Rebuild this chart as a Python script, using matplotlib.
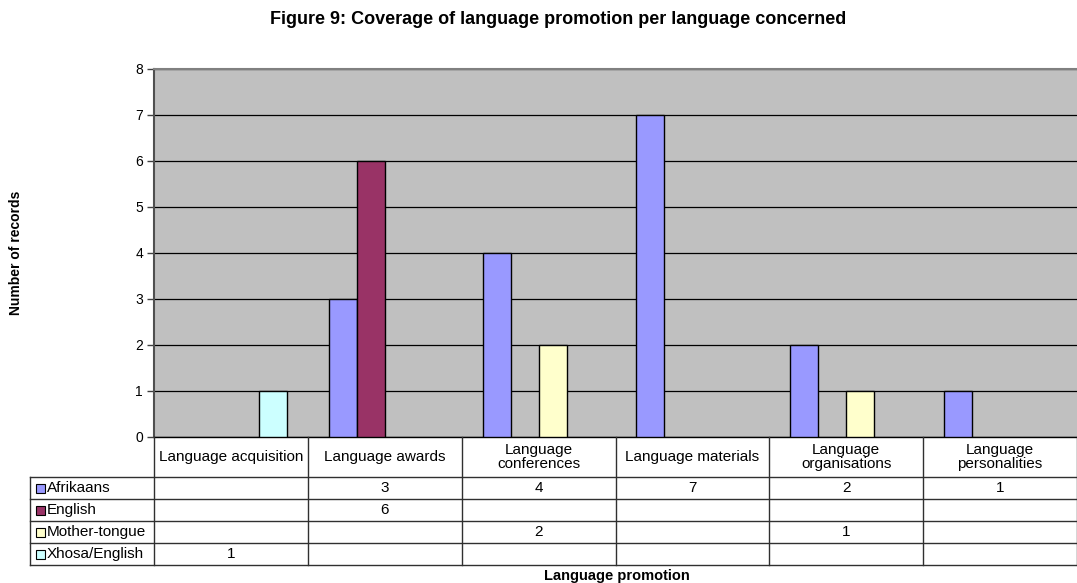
import matplotlib
matplotlib.use("Agg")
import matplotlib.pyplot as plt
from matplotlib.patches import Rectangle

plt.rcParams["font.family"] = ["Liberation Sans", "DejaVu Sans"]

categories = ["Language acquisition", "Language awards", "Language\nconferences",
              "Language materials", "Language\norganisations", "Language\npersonalities"]
series = ["Afrikaans", "English", "Mother-tongue", "Xhosa/English"]
afrikaans = [None, 3, 4, 7, 2, 1]
english = [None, 6, None, None, None, None]
mother_tongue = [None, None, 2, None, 1, None]
xhosa_english = [1, None, None, None, None, None]
colors = ["#9999FF", "#993366", "#FFFFCC", "#CCFFFF"]

values = [afrikaans, english, mother_tongue, xhosa_english]

W, H = 1077, 583
fig = plt.figure(figsize=(W / 100, H / 100), dpi=100)

# pixel layout of the plot area
left, right, top, bottom = 154, 1077, 69, 437
ax = fig.add_axes([left / W, 1 - bottom / H, (right - left) / W, (bottom - top) / H])
ax.set_facecolor("#C0C0C0")
ax.set_xlim(0, 6)
ax.set_ylim(0, 8)

# bars: 4 slots per category, gap width 150%
bw = 1 / (4 + 1.5)
for j, (name, vals, c) in enumerate(zip(series, values, colors)):
    for i, v in enumerate(vals):
        if v is None:
            continue
        ax.bar(i + bw * (1.25 + j), v, width=bw, color=c, edgecolor="black",
               linewidth=1.0, zorder=3)

ax.set_yticks(range(0, 9))
ax.yaxis.grid(True, color="black", linewidth=0.9, zorder=1)
ax.set_axisbelow(True)
ax.set_xticks([])
ax.tick_params(axis="y", direction="out", length=5, width=1, color="#404040",
               labelsize=10, pad=3)
ax.spines["top"].set_color("#808080")
ax.spines["top"].set_linewidth(1.5)
ax.spines["right"].set_visible(False)
ax.spines["left"].set_color("#505050")
ax.spines["left"].set_linewidth(1.5)
ax.spines["bottom"].set_color("black")
ax.spines["bottom"].set_linewidth(1.0)

# data table underneath
tb_bottom = 565
tax = fig.add_axes([left / W, 1 - tb_bottom / H, (right - left) / W, (tb_bottom - bottom) / H])
tax.set_xlim(0, 6)
tax.set_ylim(tb_bottom - bottom, 0)
tax.axis("off")

px = 6 / (right - left)  # data units per pixel along x
hdr = 40
row_h = 22
x_first = (30 - left) * px
lc = "#303030"

for k in range(5):
    y = hdr + row_h * k
    tax.plot([x_first, 6], [y, y], color=lc, lw=1.0, clip_on=False)
for i in range(7):
    tax.plot([i, i], [0, hdr + row_h * 4], color=lc, lw=1.0, clip_on=False)
tax.plot([x_first, x_first], [hdr, hdr + row_h * 4], color=lc, lw=1.0, clip_on=False)

for i, cat in enumerate(categories):
    tax.text(i + 0.5, hdr / 2, cat, ha="center", va="center", fontsize=11,
             linespacing=1.0)

for j, (name, vals, c) in enumerate(zip(series, values, colors)):
    yc = hdr + row_h * j + row_h / 2
    tax.add_patch(Rectangle(((36 - left) * px, yc - 4.5), 9 * px, 9, facecolor=c,
                            edgecolor="black", lw=0.8, clip_on=False))
    tax.text((47 - left) * px, yc, name, ha="left", va="center", fontsize=11,
             clip_on=False)
    for i, v in enumerate(vals):
        if v is not None:
            tax.text(i + 0.5, yc, str(v), ha="center", va="center", fontsize=11)

fig.text(558 / W, 1 - 20 / H, "Figure 9: Coverage of language promotion per language concerned",
         ha="center", va="center", fontsize=13, fontweight="bold")
fig.text(16 / W, 1 - 253 / H, "Number of records", rotation=90, ha="center",
         va="center", fontsize=10, fontweight="bold")
fig.text(617 / W, 1 - 576 / H, "Language promotion", ha="center", va="center",
         fontsize=10.5, fontweight="bold")

fig.savefig("out.png", dpi=100)
